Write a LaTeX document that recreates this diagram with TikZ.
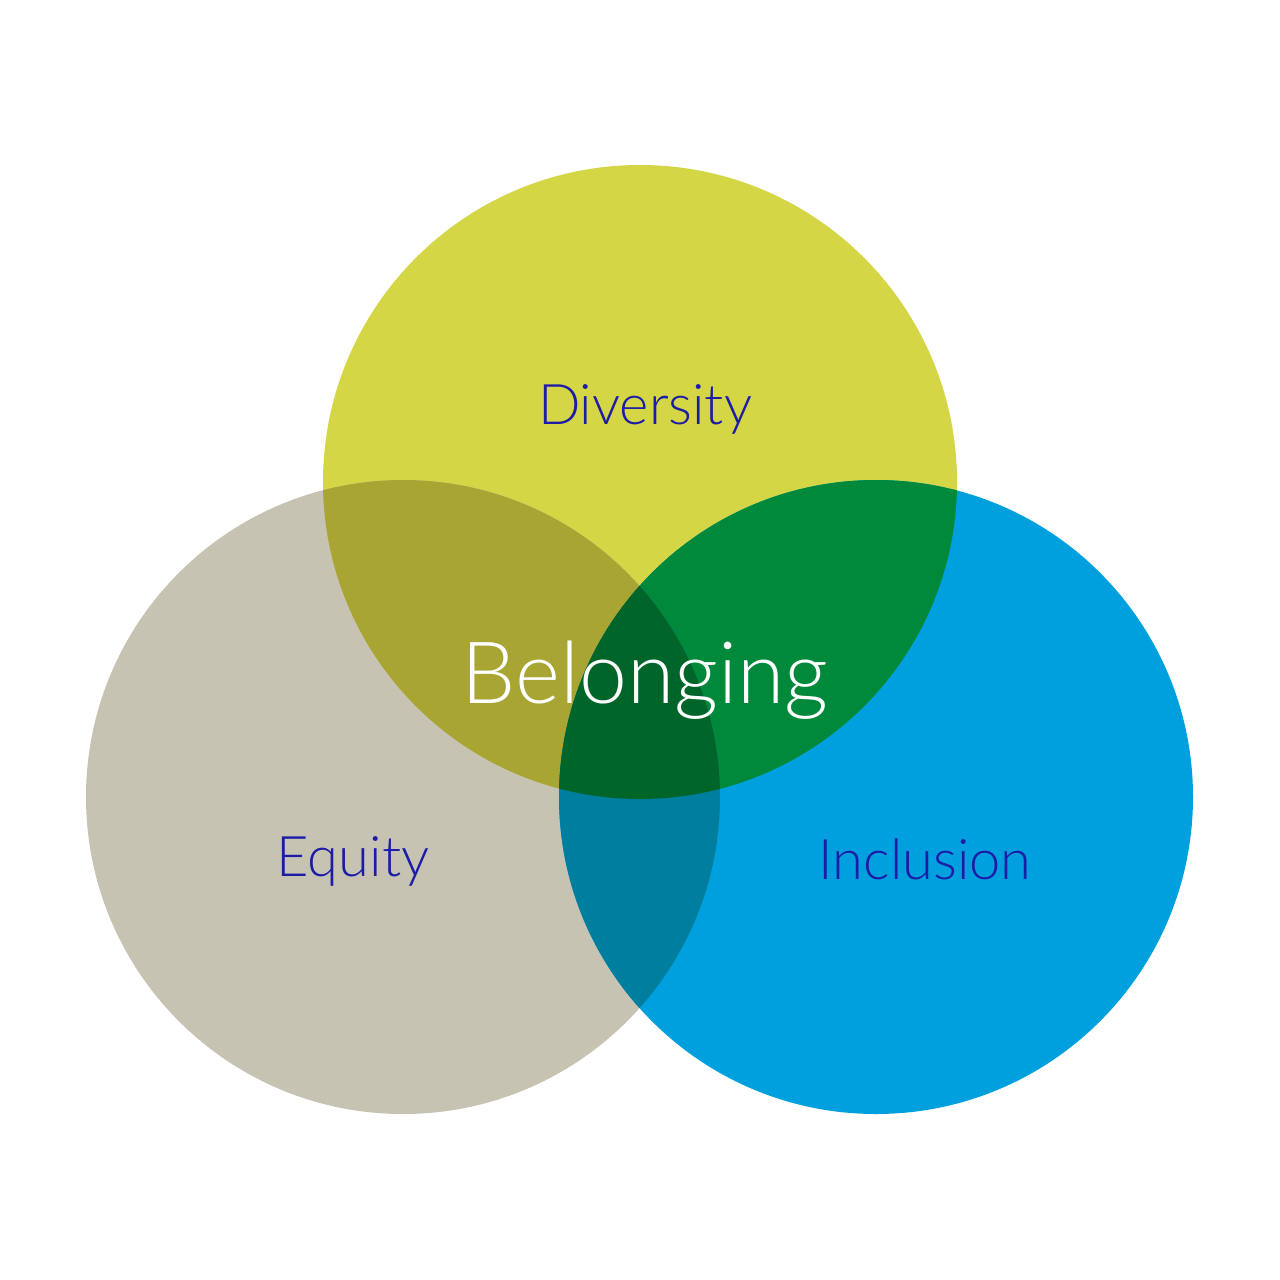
\documentclass[tikz,border=0pt]{standalone}
\usepackage{fontspec}
\setmainfont{Lato}[UprightFont=* Light]
\definecolor{cTop}{HTML}{D4D646}
\definecolor{cLeft}{HTML}{C7C3B3}
\definecolor{cRight}{HTML}{009FDE}
\definecolor{cTL}{HTML}{A8A533}
\definecolor{cTR}{HTML}{00893B}
\definecolor{cLR}{HTML}{007E9E}
\definecolor{cAll}{HTML}{006529}
\definecolor{cText}{HTML}{1C1CA6}
\tikzset{
  lbl/.style={text=cText, font=\fontsize{56}{58}\selectfont, inner sep=0pt},
  big/.style={text=white, font=\fontsize{86}{90}\selectfont, inner sep=0pt}
}
\begin{document}
\begin{tikzpicture}[x=1pt,y=-1pt]
\useasboundingbox[fill=white] (0,0) rectangle (1280,1280);
\def\R{317pt}
\coordinate (T) at (640,482);
\coordinate (L) at (403,797);
\coordinate (Rc) at (876,797);
\fill[cTop] (T) circle[radius=\R];
\fill[cLeft] (L) circle[radius=\R];
\fill[cRight] (Rc) circle[radius=\R];
\begin{scope}
  \clip (T) circle[radius=\R];
  \fill[cTL] (L) circle[radius=\R];
  \fill[cTR] (Rc) circle[radius=\R];
\end{scope}
\begin{scope}
  \clip (L) circle[radius=\R];
  \fill[cLR] (Rc) circle[radius=\R];
  \clip (Rc) circle[radius=\R];
  \fill[cAll] (T) circle[radius=\R];
\end{scope}
\node[lbl] (div) at (645,409) {Diversity};
\node[lbl] (equ) at (353,861) {Equity};
\node[lbl] (inc) at (925,859) {Inclusion};
\node[big] (bel) at (645,680) {Belonging};
\end{tikzpicture}
\end{document}
